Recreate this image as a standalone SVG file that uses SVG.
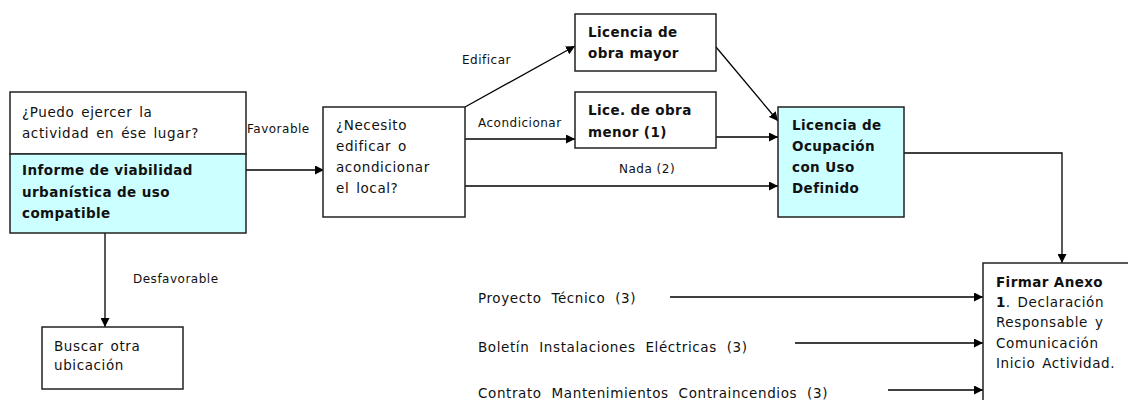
<svg xmlns="http://www.w3.org/2000/svg" width="1128" height="400" viewBox="0 0 1128 400">
<style>
.box{fill:#ffffff;stroke:#222;stroke-width:1.5}
.cy{fill:#ccffff;stroke:#222;stroke-width:1.5}
.t{font-family:"DejaVu Sans","Liberation Sans",sans-serif;font-size:13.5px;letter-spacing:0.6px;word-spacing:2px;fill:#111}
.b{font-weight:bold;letter-spacing:0.4px;word-spacing:0px}
.w{word-spacing:5px}
.s{font-family:"DejaVu Sans","Liberation Sans",sans-serif;font-size:12px;letter-spacing:0.5px;fill:#111}
.c{fill:none;stroke:#000;stroke-width:1.3}
</style>
<defs>
<marker id="ah" viewBox="0 0 10 10" refX="10" refY="5" markerWidth="9" markerHeight="9" markerUnits="userSpaceOnUse" orient="auto">
<path d="M0,0 L10,5 L0,10 z" fill="#000"/>
</marker>
</defs>
<g id="connectors">
<line class="c" x1="246" y1="170" x2="324" y2="170" marker-end="url(#ah)"/>
<line class="c" x1="105" y1="233" x2="105" y2="327" marker-end="url(#ah)"/>
<line class="c" x1="465" y1="107" x2="575" y2="46" marker-end="url(#ah)"/>
<line class="c" x1="465" y1="139" x2="575" y2="139" marker-end="url(#ah)"/>
<line class="c" x1="465" y1="186" x2="778" y2="186" marker-end="url(#ah)"/>
<line class="c" x1="716" y1="47" x2="778" y2="121" marker-end="url(#ah)"/>
<line class="c" x1="716" y1="137" x2="778" y2="137" marker-end="url(#ah)"/>
<polyline class="c" points="904,153 1062,153 1062,263" marker-end="url(#ah)"/>
<line class="c" x1="670" y1="297" x2="983" y2="297" marker-end="url(#ah)"/>
<line class="c" x1="795" y1="343" x2="983" y2="343" marker-end="url(#ah)"/>
<line class="c" x1="888" y1="390" x2="983" y2="390" marker-end="url(#ah)"/>
<text class="s" x="247" y="133">Favorable</text>
<text class="s" x="133" y="283">Desfavorable</text>
<text class="s" x="462" y="64">Edificar</text>
<text class="s" x="478" y="127">Acondicionar</text>
<text class="s" x="619" y="173">Nada (2)</text>
<text class="t w" x="478" y="303">Proyecto Técnico (3)</text>
<text class="t w" x="478" y="352">Boletín Instalaciones Eléctricas (3)</text>
<text class="t w" x="478" y="398">Contrato Mantenimientos Contraincendios (3)</text>
</g>
<g id="n-viabilidad">
<rect class="box" x="10" y="92" width="236" height="62"/>
<rect class="cy" x="10" y="154" width="236" height="79"/>
<text class="t" x="22" y="117">¿Puedo ejercer la</text>
<text class="t" x="22" y="138">actividad  en ése lugar?</text>
<text class="t b" x="22" y="175">Informe de viabilidad</text>
<text class="t b" x="22" y="197">urbanística de uso</text>
<text class="t b" x="22" y="218">compatible</text>
</g>
<g id="n-buscar">
<rect class="box" x="42" y="327" width="141" height="62"/>
<text class="t" x="54" y="351">Buscar otra</text>
<text class="t" x="54" y="370">ubicación</text>
</g>
<g id="n-necesito">
<rect class="box" x="323" y="107" width="142" height="110"/>
<text class="t" x="336" y="130">¿Necesito</text>
<text class="t" x="336" y="151">edificar o</text>
<text class="t" x="336" y="172">acondicionar</text>
<text class="t" x="336" y="193">el local?</text>
</g>
<g id="n-mayor">
<rect class="box" x="575" y="14" width="141" height="57"/>
<text class="t b" x="588" y="37">Licencia de</text>
<text class="t b" x="588" y="58">obra mayor</text>
</g>
<g id="n-menor">
<rect class="box" x="575" y="92" width="141" height="56"/>
<text class="t b" x="588" y="115">Lice. de obra</text>
<text class="t b" x="588" y="137">menor (1)</text>
</g>
<g id="n-ocupacion">
<rect class="cy" x="778" y="107" width="126" height="110"/>
<text class="t b" x="792" y="130">Licencia de</text>
<text class="t b" x="792" y="151">Ocupación</text>
<text class="t b" x="792" y="172">con Uso</text>
<text class="t b" x="792" y="193">Definido</text>
</g>
<g id="n-firmar">
<rect class="box" x="983" y="263" width="160" height="150"/>
<text class="t" x="996" y="287"><tspan class="b">Firmar Anexo</tspan></text>
<text class="t" x="996" y="307"><tspan class="b">1</tspan>. Declaración</text>
<text class="t" x="996" y="327">Responsable y</text>
<text class="t" x="996" y="348">Comunicación</text>
<text class="t" x="996" y="368">Inicio Actividad.</text>
</g>
</svg>
